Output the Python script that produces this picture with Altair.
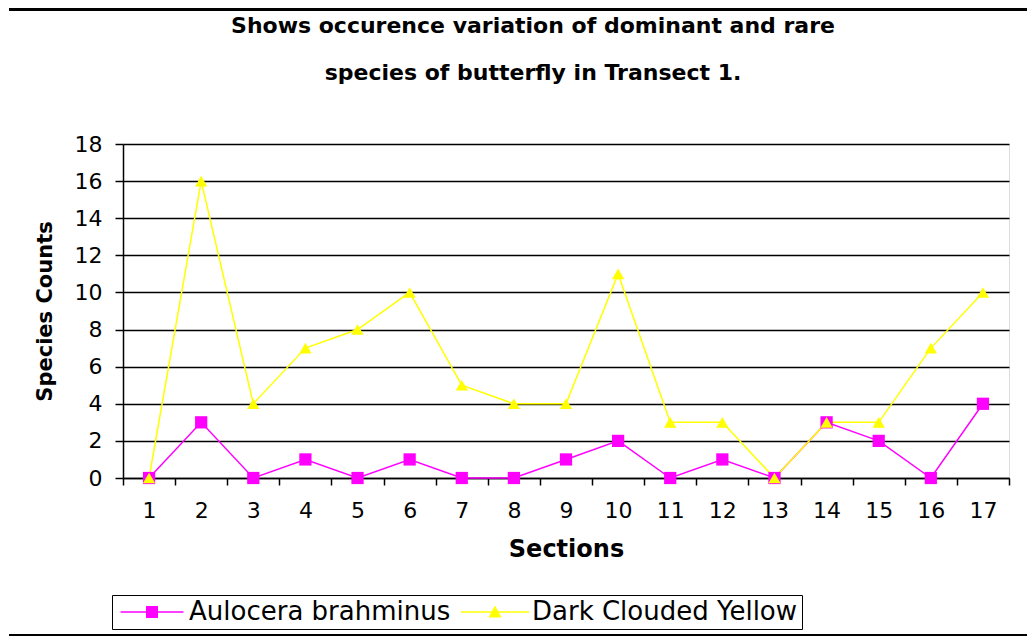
import altair as alt
import pandas as pd

# ---- data ----
sections = list(range(1, 18))
series_names = ["Aulocera brahminus", "Dark Clouded Yellow"]
aulocera = [0, 3, 0, 1, 0, 1, 0, 0, 1, 2, 0, 1, 0, 3, 2, 0, 4]
dark_clouded = [0, 16, 4, 7, 8, 10, 5, 4, 4, 11, 3, 3, 0, 3, 3, 7, 10]
y_ticks = [0, 2, 4, 6, 8, 10, 12, 14, 16, 18]
title_lines = ["Shows occurence variation of dominant and rare",
               "species  of  butterfly in Transect 1."]
series_colors = ["#FF00FF", "#FFFF00"]
series_shapes = ["square", "triangle-up"]

rows = []
for name, vals in zip(series_names, [aulocera, dark_clouded]):
    for s, v in zip(sections, vals):
        rows.append({"section": s, "series": name, "count": v})
df = pd.DataFrame(rows)

W, H = 886, 334
PAD = {"left": 115, "top": 136, "right": 18, "bottom": 158}

x_enc = alt.X(
    "section:O",
    sort=sections,
    scale=alt.Scale(type="band", paddingInner=0, paddingOuter=0),
    axis=alt.Axis(
        title="Sections", labelAngle=0, tickBand="extent", grid=False,
        domainColor="black", domainWidth=1.5, tickColor="black", tickWidth=1.5,
        tickSize=7, labelFont="DejaVu Sans", labelFontSize=22, labelColor="black",
        labelPadding=15, titleFont="DejaVu Sans", titleFontSize=24,
        titleFontWeight="bold", titleColor="black", titlePadding=16,
    ),
)
y_enc = alt.Y(
    "count:Q",
    scale=alt.Scale(domain=[0, 18], nice=False),
    axis=alt.Axis(
        values=y_ticks, title="Species Counts", grid=True, gridColor="black",
        gridWidth=1.5, domainColor="black", domainWidth=1.5, tickColor="black",
        tickWidth=1.5, tickSize=8, labelFont="DejaVu Sans", labelFontSize=22,
        labelColor="black", labelPadding=13, titleFont="DejaVu Sans",
        titleFontSize=21, titleFontWeight="bold", titleColor="black",
        titlePadding=19,
    ),
)

base = alt.Chart(df)

line_layers, point_layers = [], []
for name, col, shp in zip(series_names, series_colors, series_shapes):
    sub = base.transform_filter(alt.datum.series == name)
    line_layers.append(sub.mark_line(strokeWidth=1.5, color=col).encode(x=x_enc, y=y_enc))
    point_layers.append(
        sub.mark_point(filled=True, size=150, opacity=1, shape=shp, color=col)
        .encode(x=x_enc, y=y_enc)
    )

# legend-only layer (its own marks are drawn at size 0);
# legend symbols are filled paths: a thin bar (the line) plus the marker
legend_paths = ["M-3.15,-0.075H3.15V0.075H-3.15ZM-0.6,-0.6H0.6V0.6H-0.6Z",
                "M-3.4,-0.075H3.4V0.075H-3.4ZM0,-0.65L0.65,0.55H-0.65Z"]
leg = alt.Legend(
    orient="none", legendX=-11, legendY=451, direction="horizontal", title=None,
    labelFont="DejaVu Sans", labelFontSize=26, labelColor="black", labelLimit=600,
    symbolSize=400, symbolStrokeWidth=0, symbolOffset=23, labelOffset=24,
    columnPadding=8, padding=4, strokeColor="black", fillColor="white",
)
legend_layer = base.mark_point(filled=True, size=0, opacity=1).encode(
    x=x_enc, y=y_enc,
    color=alt.Color("series:N", scale=alt.Scale(domain=series_names, range=series_colors),
                    legend=leg),
    shape=alt.Shape("series:N", scale=alt.Scale(domain=series_names, range=legend_paths),
                    legend=leg),
)

title_layer = alt.Chart(pd.DataFrame({"t": ["\n".join(title_lines)]})).mark_text(
    font="DejaVu Sans", fontSize=22, fontWeight="bold", lineBreak="\n",
    lineHeight=47, baseline="top", align="center", color="black",
).encode(text="t:N", x=alt.value(410), y=alt.value(-128))

top_rule = alt.Chart(pd.DataFrame({"k": [0]})).mark_rule(
    color="black", strokeWidth=5
).encode(x=alt.value(-114), x2=alt.value(904), y=alt.value(-135.5))

bottom_rule = alt.Chart(pd.DataFrame({"k": [0]})).mark_rule(
    color="black", strokeWidth=2
).encode(x=alt.value(-114), x2=alt.value(904), y=alt.value(491))

chart = alt.layer(*line_layers, *point_layers, legend_layer, title_layer,
                  top_rule, bottom_rule).properties(
    width=W, height=H,
    autosize=alt.AutoSizeParams(type="none"),
    padding=PAD,
).configure_view(
    fill="#C0C0C0", stroke="#808080", strokeWidth=1.5
).configure(background="white")

chart.save("out.html", embed_options={"renderer": "svg", "actions": False})
